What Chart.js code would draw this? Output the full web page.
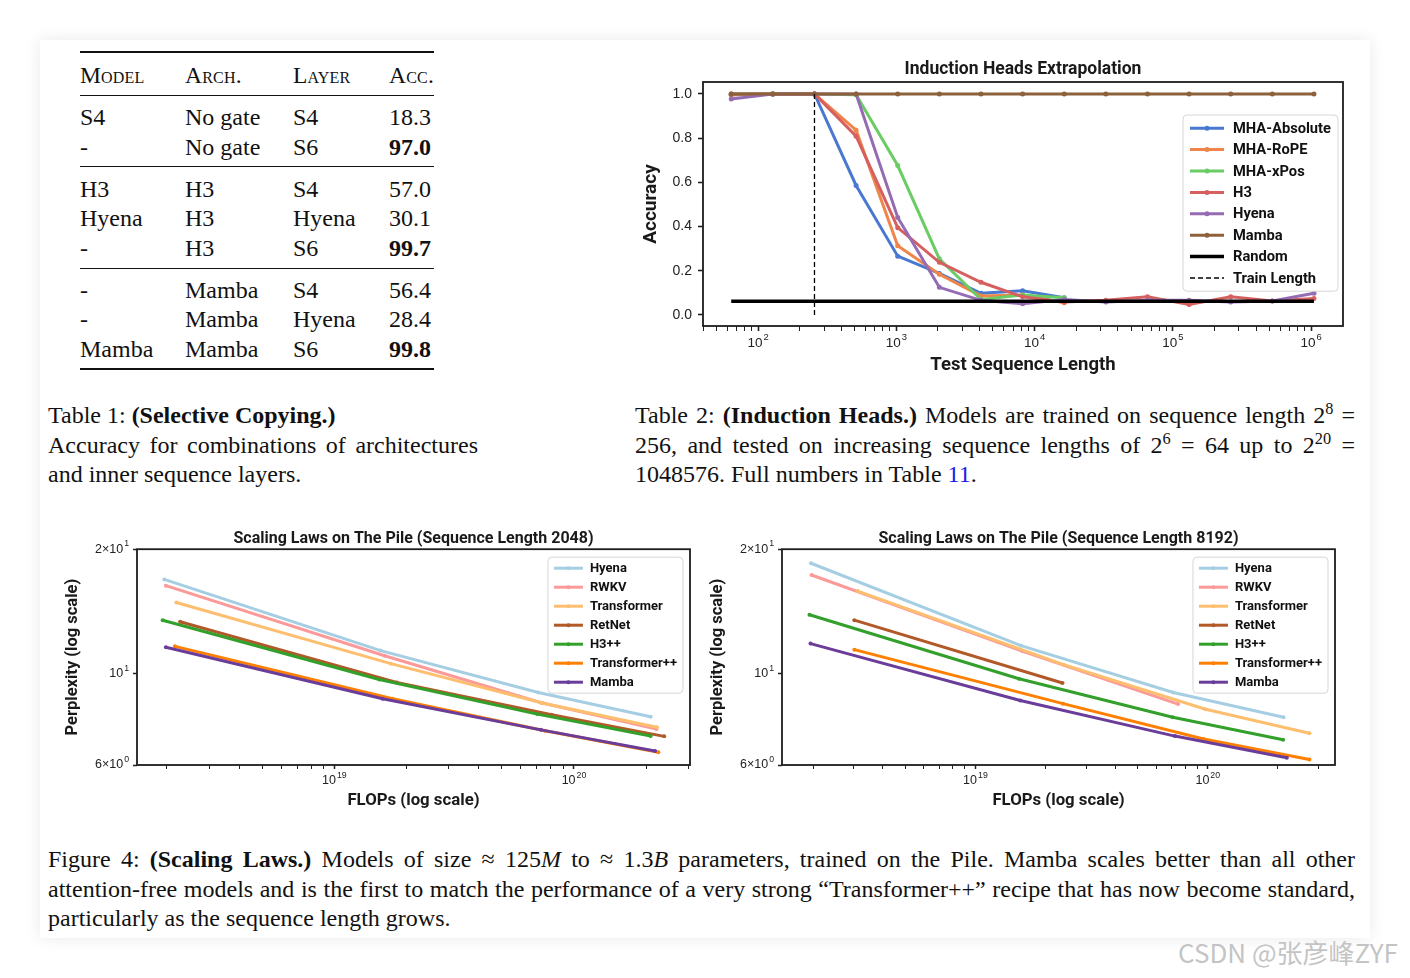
<!DOCTYPE html>
<html>
<head>
<meta charset="utf-8">
<script src="https://cdn.jsdelivr.net/npm/chart.js@4.4.1/dist/chart.umd.min.js"></script>
<style>
html, body { margin: 0; padding: 0; background: #fff; }
body { width: 1410px; height: 978px; position: relative; overflow: hidden; font-family: "Liberation Serif", serif; color: #111; }
#card { position: absolute; left: 40px; top: 40px; width: 1330px; height: 898px; background: #fff; box-shadow: 0 0 16px rgba(0,0,0,0.09); }
.rule { position: absolute; background: #111; }
.cell { position: absolute; font-size: 24px; line-height: 30px; white-space: nowrap; }
.hdr { font-variant: small-caps; font-size: 23.5px; letter-spacing: 0.2px; }
.cap { position: absolute; font-size: 24px; line-height: 29.5px; }
.cap div { text-align: justify; text-align-last: justify; }
.cap div.last { text-align-last: left; }
sup { font-size: 0.68em; line-height: 0; vertical-align: 0.55em; }
.box { position: absolute; }
#wm { position: absolute; left: 1178px; top: 933px; font-family: "Noto Sans CJK SC", sans-serif; font-size: 26px; color: #c4c4c4; white-space: nowrap; }
</style>
</head>
<body>
<div id="card"></div>
<div id="table1"></div>

<div class="cap" style="left:48px; top:401px; width:430px;">
  <div class="last">Table 1: <b>(Selective Copying.)</b></div>
  <div>Accuracy for combinations of architectures</div>
  <div class="last">and inner sequence layers.</div>
</div>

<div class="cap" style="left:635px; top:401px; width:720px;">
  <div>Table 2: <b>(Induction Heads.)</b> Models are trained on sequence length 2<sup>8</sup> =</div>
  <div>256, and tested on increasing sequence lengths of 2<sup>6</sup> = 64 up to 2<sup>20</sup> =</div>
  <div class="last">1048576. Full numbers in Table <span style="color:#1a1ae6">11</span>.</div>
</div>

<div class="cap" style="left:48px; top:845px; width:1307px;">
  <div>Figure 4: <b>(Scaling Laws.)</b> Models of size ≈ 125<i>M</i> to ≈ 1.3<i>B</i> parameters, trained on the Pile. Mamba scales better than all other</div>
  <div>attention-free models and is the first to match the performance of a very strong “Transformer++” recipe that has now become standard,</div>
  <div class="last">particularly as the sequence length grows.</div>
</div>

<div class="box" style="left:638px; top:52px; width:717px; height:328px;"><canvas id="induction"></canvas></div>
<div class="box" style="left:60px; top:525px; width:640px; height:290px;"><canvas id="scale2048"></canvas></div>
<div class="box" style="left:705px; top:525px; width:640px; height:290px;"><canvas id="scale8192"></canvas></div>

<div id="wm">CSDN @张彦峰ZYF</div>

<script>
// ---- Table 1 data ----
const tableHeader = ['Model', 'Arch.', 'Layer', 'Acc.'];
const tableModels = ['S4', '-', 'H3', 'Hyena', '-', '-', '-', 'Mamba'];
const tableArchs = ['No gate', 'No gate', 'H3', 'H3', 'H3', 'Mamba', 'Mamba', 'Mamba'];
const tableLayers = ['S4', 'S6', 'S4', 'Hyena', 'S6', 'S4', 'Hyena', 'S6'];
const tableAcc = ['18.3', '97.0', '57.0', '30.1', '99.7', '56.4', '28.4', '99.8'];
const tableBest = [false, true, false, false, true, false, false, true];

// ---- Induction heads (accuracy vs test sequence length) ----
const seqLens = [64, 128, 256, 512, 1024, 2048, 4096, 8192, 16384, 32768, 65536, 131072, 262144, 524288, 1048576];
const accMhaAbs = [0.996, 1.0, 1.0, 0.586, 0.266, 0.188, 0.098, 0.109, 0.078];
const accMhaRope = [0.996, 1.0, 1.0, 0.836, 0.313, 0.184, 0.086, 0.090, 0.055];
const accMhaXpos = [1.0, 1.0, 1.0, 0.996, 0.676, 0.254, 0.070, 0.090, 0.078];
const accH3 = [1.0, 1.0, 1.0, 0.809, 0.395, 0.238, 0.148, 0.082, 0.059, 0.066, 0.082, 0.047, 0.082, 0.063, 0.074];
const accHyena = [0.977, 1.0, 1.0, 1.0, 0.441, 0.125, 0.066, 0.051, 0.070, 0.059, 0.066, 0.066, 0.059, 0.063, 0.098];
const accMamba = [1.0, 1.0, 1.0, 1.0, 1.0, 1.0, 1.0, 1.0, 1.0, 1.0, 1.0, 1.0, 1.0, 1.0, 1.0];
const randomAcc = 0.0625;
const trainLength = 256;
const seqMajorTicks = [1e2, 1e3, 1e4, 1e5, 1e6];
const accTicks = [0, 0.2, 0.4, 0.6, 0.8, 1.0];

// ---- Scaling laws, sequence length 2048 (FLOPs, perplexity) ----
const hyenaFlops2k = [1.95e18, 1.56e19, 7.10e19, 2.09e20];
const hyenaPpl2k = [16.9, 11.36, 8.99, 7.85];
const rwkvFlops2k = [1.98e18, 1.62e19, 7.30e19, 2.21e20];
const rwkvPpl2k = [16.32, 11.04, 8.49, 7.33];
const transFlops2k = [2.19e18, 1.72e19, 7.45e19, 2.22e20];
const transPpl2k = [14.86, 10.56, 8.47, 7.41];
const retnetFlops2k = [2.27e18, 1.82e19, 8.07e19, 2.38e20];
const retnetPpl2k = [13.34, 9.51, 7.94, 7.04];
const h3ppFlops2k = [1.92e18, 1.54e19, 7.03e19, 2.09e20];
const h3ppPpl2k = [13.46, 9.67, 7.97, 7.05];
const transppFlops2k = [2.16e18, 1.75e19, 7.57e19, 2.25e20];
const transppPpl2k = [11.63, 8.68, 7.26, 6.44];
const mambaFlops2k = [1.98e18, 1.59e19, 7.28e19, 2.18e20];
const mambaPpl2k = [11.57, 8.68, 7.30, 6.49];

// ---- Scaling laws, sequence length 8192 ----
const hyenaFlops8k = [1.96e18, 1.57e19, 7.11e19, 2.12e20];
const hyenaPpl8k = [18.49, 11.68, 8.99, 7.83];
const rwkvFlops8k = [1.97e18, 1.60e19, 7.45e19];
const rwkvPpl8k = [17.32, 11.31, 8.43];
const transFlops8k = [3.11e18, 2.40e19, 9.78e19, 2.74e20];
const transPpl8k = [15.83, 10.50, 8.19, 7.16];
const retnetFlops8k = [3.01e18, 2.37e19];
const retnetPpl8k = [13.46, 9.48];
const h3ppFlops8k = [1.93e18, 1.54e19, 7.07e19, 2.11e20];
const h3ppPpl8k = [13.87, 9.71, 7.83, 6.91];
const transppFlops8k = [3.01e18, 2.38e19, 9.60e19, 2.74e20];
const transppPpl8k = [11.42, 8.45, 6.94, 6.19];
const mambaFlops8k = [1.95e18, 1.56e19, 7.22e19, 2.19e20];
const mambaPpl8k = [11.81, 8.60, 7.05, 6.25];

const flopMajorTicks = [1e19, 1e20];
const pplTickValues = [6, 10, 20];
const pplTickLabels = [['6×10', '0'], ['10', '1'], ['2×10', '1']];

// ---------- build table ----------
(function buildTable() {
  const host = document.getElementById('table1');
  const colX = [80, 185, 293, 389];
  const rowY = [117, 147, 189, 218, 248, 290, 319, 349];
  const rules = [[51, 2.2], [95, 1.2], [166, 1.2], [268, 1.2], [368, 2.2]];
  let html = '';
  rules.forEach(r => {
    html += `<div class="rule" style="left:80px;width:354px;top:${r[0]}px;height:${r[1]}px"></div>`;
  });
  tableHeader.forEach((h, i) => {
    html += `<div class="cell hdr" style="left:${colX[i]}px;top:${75 - 15}px">${h}</div>`;
  });
  rowY.forEach((y, r) => {
    const cols = [tableModels[r], tableArchs[r], tableLayers[r], tableAcc[r]];
    cols.forEach((t, c) => {
      const bold = (c === 3 && tableBest[r]) ? 'font-weight:bold;' : '';
      html += `<div class="cell" style="left:${colX[c]}px;top:${y - 15}px;${bold}">${t}</div>`;
    });
  });
  host.innerHTML = html;
})();

// ---------- helpers ----------
Chart.defaults.font.family = 'Roboto, "Liberation Sans", sans-serif';
Chart.defaults.color = '#222';
Chart.defaults.animation = false;
const TICK_FONT = '"Liberation Sans", Arial, sans-serif';

function isPow10(v) { const l = Math.log10(v); return Math.abs(l - Math.round(l)) < 1e-9; }
function logTicks(min, max) {
  const out = [];
  for (let e = Math.floor(Math.log10(min)); e <= Math.ceil(Math.log10(max)); e++) {
    for (let m = 1; m < 10; m++) {
      const v = m * Math.pow(10, e);
      if (v >= min && v <= max) out.push(v);
    }
  }
  return out;
}
function points(xs, ys) { return ys.map((y, i) => ({ x: xs[i], y: y })); }

// axes frame (all four spines, like matplotlib)
const framePlugin = {
  id: 'frame',
  afterDatasetsDraw(chart) {
    const { ctx, chartArea: a } = chart;
    ctx.save();
    ctx.strokeStyle = '#1c1c1c';
    ctx.lineWidth = 1.8;
    ctx.strokeRect(a.left, a.top, a.right - a.left, a.bottom - a.top);
    ctx.restore();
  }
};

// tick labels with real superscripts (10^n), positioned by the scales
const supTicks = {
  id: 'supTicks',
  afterDraw(chart, args, o) {
    const ctx = chart.ctx, a = chart.chartArea;
    ctx.save();
    ctx.fillStyle = '#222';
    ctx.textBaseline = 'middle';
    ctx.textAlign = 'left';
    (o.items || []).forEach(it => {
      const sc = chart.scales[it.axis];
      const p = sc.getPixelForValue(it.value);
      const bs = it.axis === 'x' ? o.xSize : o.ySize;
      const es = bs * 0.7;
      ctx.font = `${bs}px ${TICK_FONT}`;
      const bw = ctx.measureText(it.base).width;
      ctx.font = `${es}px ${TICK_FONT}`;
      const ew = ctx.measureText(it.exp).width;
      let x0, y;
      if (it.axis === 'x') { x0 = p - (bw + ew + 1) / 2; y = a.bottom + o.xOffset; }
      else { x0 = a.left - o.yOffset - (bw + ew + 1); y = p; }
      ctx.font = `${bs}px ${TICK_FONT}`;
      ctx.fillText(it.base, x0, y);
      ctx.font = `${es}px ${TICK_FONT}`;
      ctx.fillText(it.exp, x0 + bw + 1, y - bs * 0.42);
    });
    ctx.restore();
  }
};

// boxed legend inside plot area
const boxLegend = {
  id: 'boxLegend',
  afterDraw(chart, args, o) {
    const { ctx, chartArea: a } = chart;
    const items = chart.data.datasets;
    ctx.save();
    ctx.font = o.font;
    let maxW = 0;
    items.forEach(d => { maxW = Math.max(maxW, ctx.measureText(d.label).width); });
    const w = o.padX + o.lineLen + o.gap + maxW + o.padX;
    const h = items.length * o.rowH + 2 * o.padY;
    const x0 = a.right - o.right - w, y0 = a.top + o.top;
    ctx.beginPath();
    ctx.roundRect(x0, y0, w, h, 4);
    ctx.fillStyle = 'rgba(255,255,255,0.85)';
    ctx.fill();
    ctx.strokeStyle = '#d6d6d6';
    ctx.lineWidth = 1;
    ctx.stroke();
    items.forEach((d, i) => {
      const cy = y0 + o.padY + o.rowH * (i + 0.5);
      const lx = x0 + o.padX;
      ctx.beginPath();
      ctx.setLineDash(d.borderDash || []);
      ctx.strokeStyle = d.borderColor;
      ctx.lineWidth = d.borderWidth;
      ctx.moveTo(lx, cy);
      ctx.lineTo(lx + o.lineLen, cy);
      ctx.stroke();
      ctx.setLineDash([]);
      if (d.pointRadius > 0) {
        ctx.beginPath();
        ctx.fillStyle = d.borderColor;
        ctx.arc(lx + o.lineLen / 2, cy, d.pointRadius, 0, Math.PI * 2);
        ctx.fill();
      }
      ctx.fillStyle = '#111';
      ctx.textBaseline = 'middle';
      ctx.textAlign = 'left';
      ctx.fillText(d.label, lx + o.lineLen + o.gap, cy + 1);
    });
    ctx.restore();
  }
};

function lineSet(label, data, color, width, radius, i, n) {
  return {
    label: label, data: data,
    borderColor: color, backgroundColor: color,
    borderWidth: width, pointRadius: radius, pointHoverRadius: radius,
    pointBorderWidth: 0, tension: 0, fill: false,
    order: n - i
  };
}
function powLabel(axis, v) { const e = Math.round(Math.log10(v)); return { axis: axis, value: v, base: '10', exp: String(e) }; }

// ---------- induction heads chart ----------
const indSeries = [
  ['MHA-Absolute', accMhaAbs, '#4878d0'],
  ['MHA-RoPE', accMhaRope, '#ee854a'],
  ['MHA-xPos', accMhaXpos, '#6acc64'],
  ['H3', accH3, '#d65f5f'],
  ['Hyena', accHyena, '#956cb4'],
  ['Mamba', accMamba, '#8c613c']
];
const indDatasets = indSeries.map((s, i) => lineSet(s[0], points(seqLens, s[1]), s[2], 3, 2.5, i, 8));
const randDs = lineSet('Random', [{ x: seqLens[0], y: randomAcc }, { x: seqLens[seqLens.length - 1], y: randomAcc }], '#000', 3.5, 0, 6, 8);
const trainDs = lineSet('Train Length', [{ x: trainLength, y: 0 }, { x: trainLength, y: 1 }], '#000', 1.3, 0, 7, 8);
trainDs.borderDash = [5, 3];
indDatasets.push(randDs, trainDs);

new Chart(document.getElementById('induction'), {
  type: 'line',
  data: { datasets: indDatasets },
  options: {
    responsive: true, maintainAspectRatio: false,
    layout: { padding: { left: 0, right: 12, top: 0, bottom: 0 } },
    plugins: {
      legend: { display: false }, tooltip: { enabled: false },
      title: { display: true, text: 'Induction Heads Extrapolation', fullSize: false,
        font: { size: 17.5, weight: 'bold' }, color: '#1a1a1a', padding: { top: 7, bottom: 2 } },
      boxLegend: { font: 'bold 14.7px Roboto', padX: 7, padY: 2.5, lineLen: 34, gap: 9, rowH: 21.4, right: 5, top: 33 },
      supTicks: { xSize: 13.5, ySize: 13, xOffset: 17, yOffset: 8, items: seqMajorTicks.map(v => powLabel('x', v)) }
    },
    scales: {
      x: {
        type: 'logarithmic', min: 40, max: 1.7e6,
        afterBuildTicks: s => { s.ticks = logTicks(40, 1.7e6).map(v => ({ value: v, major: isPow10(v) })); },
        afterFit: s => { s.height = 54; },
        ticks: { autoSkip: false, maxRotation: 0, callback: () => '' },
        grid: { drawOnChartArea: false, drawTicks: true, tickLength: 5, tickColor: '#222',
          tickWidth: c => (c.tick && isPow10(c.tick.value) ? 1.6 : 1) },
        border: { display: false },
        title: { display: true, text: 'Test Sequence Length', font: { size: 18.5, weight: 'bold' }, color: '#1a1a1a', padding: { top: 2, bottom: 4 } }
      },
      y: {
        type: 'linear', min: -0.05, max: 1.054,
        afterBuildTicks: s => { s.ticks = accTicks.map(v => ({ value: v })); },
        afterFit: s => { s.width = 65; },
        ticks: { autoSkip: false, padding: 6, font: { size: 14, family: TICK_FONT }, color: '#222', callback: v => v.toFixed(1) },
        grid: { drawOnChartArea: false, drawTicks: true, tickLength: 5, tickColor: '#222', tickWidth: 1.6 },
        border: { display: false },
        title: { display: true, text: 'Accuracy', font: { size: 19, weight: 'bold' }, color: '#1a1a1a', padding: { top: 2, bottom: 2 } }
      }
    }
  },
  plugins: [framePlugin, supTicks, boxLegend]
});

// ---------- scaling law charts ----------
const pairedColors = ['#a6cee3', '#fb9a99', '#fdbf6f', '#b15928', '#33a02c', '#ff7f00', '#6a3d9a'];
const scaleNames = ['Hyena', 'RWKV', 'Transformer', 'RetNet', 'H3++', 'Transformer++', 'Mamba'];

function scalingChart(id, title, flops, ppls, xMin, xMax) {
  const ds = scaleNames.map((name, i) => lineSet(name, points(flops[i], ppls[i]), pairedColors[i], 3, 2, i, 7));
  const labels = flopMajorTicks.map(v => powLabel('x', v))
    .concat(pplTickValues.map((v, i) => ({ axis: 'y', value: v, base: pplTickLabels[i][0], exp: pplTickLabels[i][1] })));
  return new Chart(document.getElementById(id), {
    type: 'line',
    data: { datasets: ds },
    options: {
      responsive: true, maintainAspectRatio: false,
      layout: { padding: { left: 0, right: 10, top: 0, bottom: 0 } },
      plugins: {
        legend: { display: false }, tooltip: { enabled: false },
        title: { display: true, text: title, fullSize: false,
          font: { size: 16, weight: 'bold' }, color: '#1a1a1a', padding: { top: 4, bottom: 1 } },
        boxLegend: { font: 'bold 13px Roboto', padX: 6, padY: 1.5, lineLen: 29, gap: 7, rowH: 19, right: 7, top: 8 },
        supTicks: { xSize: 12.5, ySize: 12.5, xOffset: 16, yOffset: 8, items: labels }
      },
      scales: {
        x: {
          type: 'logarithmic', min: xMin, max: xMax,
          afterBuildTicks: s => { s.ticks = logTicks(xMin, xMax).map(v => ({ value: v, major: isPow10(v) })); },
          afterFit: s => { s.height = 50; },
          ticks: { autoSkip: false, maxRotation: 0, callback: () => '' },
          grid: { drawOnChartArea: false, drawTicks: true, tickLength: 4, tickColor: '#222',
            tickWidth: c => (c.tick && isPow10(c.tick.value) ? 1.5 : 1) },
          border: { display: false },
          title: { display: true, text: 'FLOPs (log scale)', font: { size: 16.8, weight: 'bold' }, color: '#1a1a1a', padding: { top: 2, bottom: 4 } }
        },
        y: {
          type: 'logarithmic', min: 6, max: 20,
          afterBuildTicks: s => { s.ticks = pplTickValues.map(v => ({ value: v })); },
          afterFit: s => { s.width = 77; },
          ticks: { autoSkip: false, callback: () => '' },
          grid: { drawOnChartArea: false, drawTicks: true, tickLength: 4, tickColor: '#222', tickWidth: 1.5 },
          border: { display: false },
          title: { display: true, text: 'Perplexity (log scale)', font: { size: 16.5, weight: 'bold' }, color: '#1a1a1a', padding: { top: 3, bottom: 2 } }
        }
      }
    },
    plugins: [framePlugin, supTicks, boxLegend]
  });
}

scalingChart('scale2048', 'Scaling Laws on The Pile (Sequence Length 2048)',
  [hyenaFlops2k, rwkvFlops2k, transFlops2k, retnetFlops2k, h3ppFlops2k, transppFlops2k, mambaFlops2k],
  [hyenaPpl2k, rwkvPpl2k, transPpl2k, retnetPpl2k, h3ppPpl2k, transppPpl2k, mambaPpl2k],
  1.50e18, 3.05e20);

scalingChart('scale8192', 'Scaling Laws on The Pile (Sequence Length 8192)',
  [hyenaFlops8k, rwkvFlops8k, transFlops8k, retnetFlops8k, h3ppFlops8k, transppFlops8k, mambaFlops8k],
  [hyenaPpl8k, rwkvPpl8k, transPpl8k, retnetPpl8k, h3ppPpl8k, transppPpl8k, mambaPpl8k],
  1.47e18, 3.53e20);
</script>
</body>
</html>
